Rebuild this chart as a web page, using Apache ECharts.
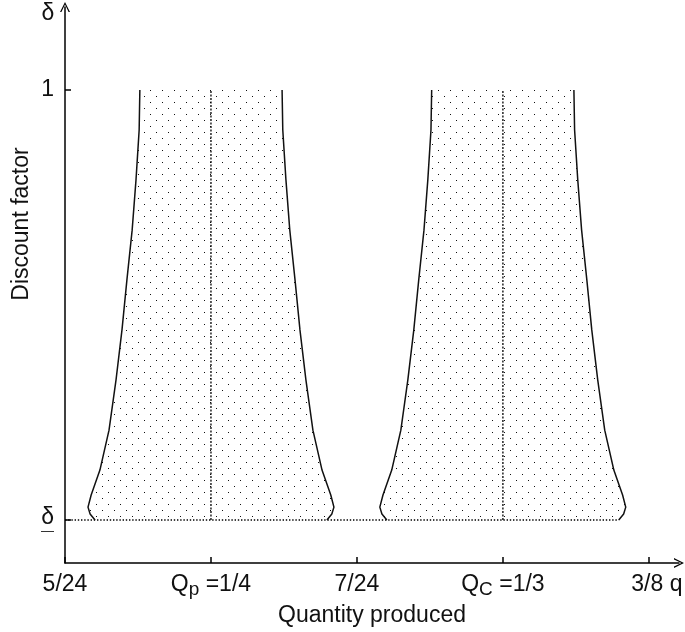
<!DOCTYPE html>
<html>
<head>
<meta charset="utf-8">
<script src="https://cdn.jsdelivr.net/npm/echarts@6/dist/echarts.min.js"></script>
<style>
html, body {margin: 0; padding: 0; background: #fff;}
#main {width: 685px; height: 632px;}
</style>
</head>
<body>
<div id="main"></div>
<script>
// discount factor levels, 0 = lower bound (underlined delta), 1 = top
var deltaLevels = [1, 0.907, 0.791, 0.674, 0.558, 0.442, 0.326, 0.209, 0.116, 0.058, 0.030, 0.014, 0];

// boundaries of the region around Qp = 1/4
var leftA  = [0.2297, 0.2295, 0.2286, 0.2275, 0.2260, 0.2246, 0.2229, 0.2209, 0.2183, 0.2158, 0.2149, 0.2155, 0.2169];
var rightA = [0.2703, 0.2705, 0.2714, 0.2725, 0.2740, 0.2754, 0.2771, 0.2791, 0.2817, 0.2842, 0.2851, 0.2845, 0.2831];

// boundaries of the region around Qc = 1/3
var leftB  = [0.3130, 0.3128, 0.3119, 0.3108, 0.3093, 0.3079, 0.3062, 0.3042, 0.3016, 0.2991, 0.2982, 0.2988, 0.3002];
var rightB = [0.3536, 0.3538, 0.3547, 0.3558, 0.3573, 0.3587, 0.3604, 0.3624, 0.3650, 0.3675, 0.3684, 0.3678, 0.3664];

var qp = 1 / 4;
var qc = 1 / 3;
var baseQ = [5 / 24, 0.3664];

var xTickValues = [5 / 24, 1 / 4, 7 / 24, 1 / 3, 3 / 8];
var xTickLabels = ['5/24', '{t|Q}{s|p}{t| =1/4}', '7/24', '{t|Q}{s|C}{t| =1/3}', '{pad|3/8} q'];
var yTickValues = [0, 1];
var yTickLabels = ['{d|\u03b4}\n{ul|\u2014}', '1'];

var FONT = '"Liberation Sans", Arial, sans-serif';
var arrow = 'path://M0,10 L5,0 L10,10 L8.6,10 L5,2.6 L1.4,10 Z';

// dot fill
var tile = document.createElement('canvas');
tile.width = 12;
tile.height = 12;
var tctx = tile.getContext('2d');
tctx.fillStyle = '#111';
tctx.fillRect(0, 0, 1, 1);
tctx.fillRect(6, 6, 1, 1);
var dots = {image: tile, repeat: 'repeat'};

function pickLabel(values, labels, v) {
    for (var i = 0; i < values.length; i++) {
        if (Math.abs(values[i] - v) < 1e-6) return labels[i];
    }
    return '';
}

function region(left, right) {
    return {
        type: 'custom',
        coordinateSystem: 'cartesian2d',
        silent: true,
        z: 1,
        data: [[left[0], 1]],
        renderItem: function (params, api) {
            var pts = [];
            for (var i = 0; i < deltaLevels.length; i++) {
                pts.push(api.coord([left[i], deltaLevels[i]]));
            }
            for (var j = deltaLevels.length - 1; j >= 0; j--) {
                pts.push(api.coord([right[j], deltaLevels[j]]));
            }
            return {type: 'polygon', shape: {points: pts}, style: {fill: dots, stroke: null}};
        }
    };
}

function edge(qs) {
    return {
        type: 'line',
        silent: true,
        z: 3,
        symbol: 'none',
        data: qs.map(function (q, i) { return [q, deltaLevels[i]]; }),
        lineStyle: {color: '#111', width: 1.5}
    };
}

function dotted(data, width, dash) {
    return {
        type: 'line',
        silent: true,
        z: 2,
        symbol: 'none',
        data: data,
        lineStyle: {color: '#000', width: width, type: dash}
    };
}

var chart = echarts.init(document.getElementById('main'));

chart.setOption({
    animation: false,
    backgroundColor: '#fff',
    grid: {left: 65, right: 6, top: 7, bottom: 69, outerBoundsMode: 'none'},
    xAxis: {
        type: 'value',
        min: 5 / 24,
        max: 0.3836,
        axisLine: {
            show: true,
            onZero: false,
            lineStyle: {color: '#000', width: 1.5},
            symbol: ['none', arrow],
            symbolSize: [10, 10]
        },
        axisTick: {show: true, inside: true, length: 6, customValues: xTickValues, lineStyle: {color: '#000', width: 1.5}},
        axisLabel: {
            customValues: xTickValues,
            margin: 10,
            color: '#111',
            fontSize: 23,
            fontFamily: FONT,
            formatter: function (v) { return pickLabel(xTickValues, xTickLabels, v); },
            rich: {
                t: {fontSize: 23, fontFamily: FONT, color: '#111', verticalAlign: 'top'},
                s: {fontSize: 19, fontFamily: FONT, color: '#111', verticalAlign: 'top', padding: [7, 0, 0, 0]},
                pad: {fontSize: 23, fontFamily: FONT, color: '#111', padding: [0, 0, 0, 16]}
            }
        },
        splitLine: {show: false},
        name: 'Quantity produced',
        nameLocation: 'middle',
        nameGap: 37,
        nameTextStyle: {color: '#111', fontSize: 23, fontFamily: FONT}
    },
    yAxis: {
        type: 'value',
        min: -0.1,
        max: 1.193,
        axisLine: {
            show: true,
            onZero: false,
            lineStyle: {color: '#000', width: 1.5},
            symbol: ['none', arrow],
            symbolSize: [10, 10]
        },
        axisTick: {show: true, inside: true, length: 6, customValues: yTickValues, lineStyle: {color: '#000', width: 1.5}},
        axisLabel: {
            customValues: yTickValues,
            margin: 11,
            color: '#111',
            fontSize: 23,
            fontFamily: FONT,
            formatter: function (v) { return pickLabel(yTickValues, yTickLabels, v); },
            rich: {
                d: {fontSize: 23, fontFamily: FONT, color: '#111', lineHeight: 22},
                ul: {fontSize: 13, fontFamily: FONT, color: '#111', lineHeight: 5}
            }
        },
        splitLine: {show: false}
    },
    graphic: [
        {
            type: 'text', x: 48, y: 14,
            style: {text: '\u03b4', fontSize: 23, fontFamily: FONT, fill: '#111', align: 'center', verticalAlign: 'middle'}
        },
        {
            type: 'text', x: 22, y: 224, rotation: Math.PI / 2,
            style: {text: 'Discount factor', fontSize: 23, fontFamily: FONT, fill: '#111', align: 'center', verticalAlign: 'middle'}
        }
    ],
    series: [
        region(leftA, rightA),
        region(leftB, rightB),
        edge(leftA),
        edge(rightA),
        edge(leftB),
        edge(rightB),
        dotted([[qp, 0], [qp, 1]], 1.3, [2, 1.5]),
        dotted([[qc, 0], [qc, 1]], 1.3, [2, 1.5]),
        dotted([[baseQ[0], 0], [baseQ[1], 0]], 1.4, [1.4, 1.8])
    ]
});
</script>
</body>
</html>
